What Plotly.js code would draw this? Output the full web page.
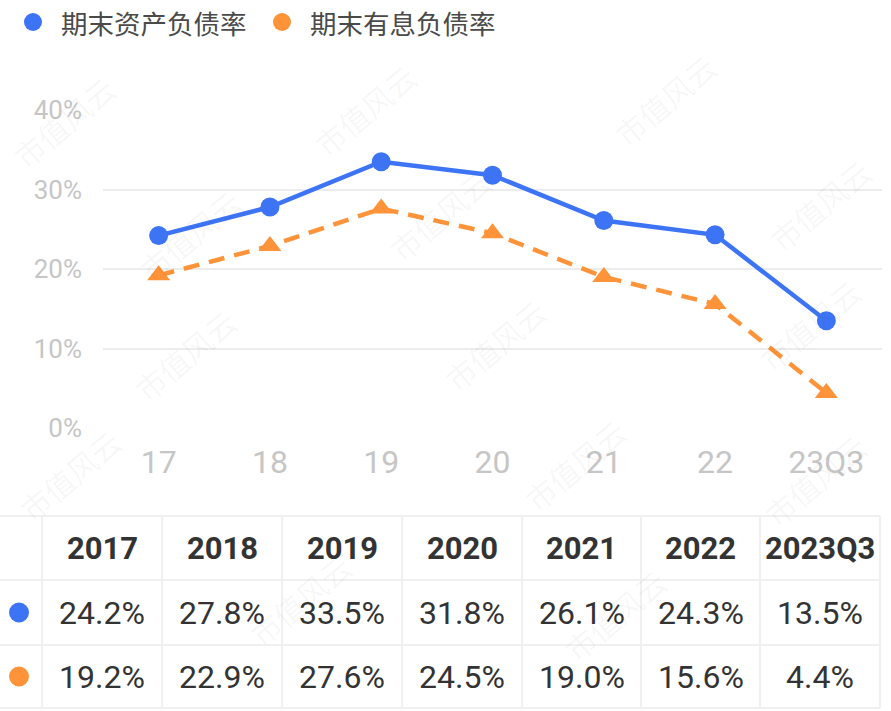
<!DOCTYPE html>
<html>
<head>
<meta charset="utf-8">
<script src="https://cdn.plot.ly/plotly-3.0.1.min.js"></script>
<style>
  html, body { margin: 0; padding: 0; background: #ffffff; }
  #chart { width: 891px; height: 711px; }
</style>
</head>
<body>
<div id="chart"></div>
<script>
// Debt ratios by period
const categories = ['17', '18', '19', '20', '21', '22', '23Q3'];
const periods = ['2017', '2018', '2019', '2020', '2021', '2022', '2023Q3'];
const assetLiabilityRatio = [24.2, 27.8, 33.5, 31.8, 26.1, 24.3, 13.5];
const interestDebtRatio = [19.2, 22.9, 27.6, 24.5, 19.0, 15.6, 4.4];
const seriesNames = ['期末资产负债率', '期末有息负债率'];
const yTicks = [0, 10, 20, 30, 40];
const watermarkText = '市值风云';

// Figure geometry (pixels) converted to paper fractions
const W = 891, H = 711;
const fx = x => x / W;
const fy = y => 1 - y / H;

const BLUE = '#3d74f6';
const ORANGE = '#fe9339';
const NUM_FONT = 'Roboto, "Noto Sans", sans-serif';
const CJK_FONT = '"Noto Sans CJK SC", "Noto Sans", sans-serif';

const traces = [
  {
    type: 'scatter', mode: 'lines+markers', name: seriesNames[0],
    x: categories, y: assetLiabilityRatio, cliponaxis: false,
    line: { color: BLUE, width: 4.5 },
    marker: { color: BLUE, size: 19, symbol: 'circle' },
    showlegend: false, hoverinfo: 'skip'
  },
  {
    type: 'scatter', mode: 'lines+markers', name: seriesNames[1],
    x: categories, y: interestDebtRatio, cliponaxis: false,
    line: { color: ORANGE, width: 4.5, dash: '16px,10px' },
    marker: { color: ORANGE, size: 20, symbol: 'triangle-up' },
    showlegend: false, hoverinfo: 'skip'
  }
];

const shapes = [];
const annotations = [];

// Legend: colored dots followed by labels
const legendItems = [
  { color: BLUE, dotX: 33, textX: 59, label: seriesNames[0] },
  { color: ORANGE, dotX: 282, textX: 308, label: seriesNames[1] }
];
legendItems.forEach(it => {
  shapes.push({
    type: 'circle', xref: 'paper', yref: 'paper',
    x0: fx(it.dotX - 9), x1: fx(it.dotX + 9), y0: fy(22 + 9), y1: fy(22 - 9),
    fillcolor: it.color, line: { width: 0 }
  });
  annotations.push({
    xref: 'paper', yref: 'paper', x: fx(it.textX), y: fy(22),
    xanchor: 'left', yanchor: 'middle', showarrow: false,
    text: it.label, font: { family: CJK_FONT, size: 26.5, color: '#4a4a4a' }
  });
});

// Data table below the chart
const colEdges = [42, 162, 282, 402, 522, 641, 760, 880];
const rowEdges = [516, 580, 645, 708];
const GRID = '#f0f0f0';
rowEdges.forEach(y => {
  shapes.push({
    type: 'line', xref: 'paper', yref: 'paper',
    x0: 0, x1: fx(880), y0: fy(y), y1: fy(y),
    line: { color: GRID, width: 2 }
  });
});
colEdges.forEach(x => {
  shapes.push({
    type: 'line', xref: 'paper', yref: 'paper',
    x0: fx(x), x1: fx(x), y0: fy(rowEdges[0]), y1: fy(rowEdges[3]),
    line: { color: GRID, width: 2 }
  });
});

const rowCenter = i => (rowEdges[i] + rowEdges[i + 1]) / 2;
periods.forEach((p, i) => {
  const cx = (colEdges[i] + colEdges[i + 1]) / 2;
  annotations.push({
    xref: 'paper', yref: 'paper', x: fx(cx), y: fy(rowCenter(0)),
    xanchor: 'center', yanchor: 'middle', showarrow: false,
    text: '<b>' + p + '</b>', font: { family: NUM_FONT, size: 31, color: '#333333' }
  });
});
[assetLiabilityRatio, interestDebtRatio].forEach((series, r) => {
  const cy = rowCenter(r + 1);
  shapes.push({
    type: 'circle', xref: 'paper', yref: 'paper',
    x0: fx(19 - 10), x1: fx(19 + 10), y0: fy(cy + 10), y1: fy(cy - 10),
    fillcolor: r === 0 ? BLUE : ORANGE, line: { width: 0 }
  });
  series.forEach((v, i) => {
    const cx = (colEdges[i] + colEdges[i + 1]) / 2;
    annotations.push({
      xref: 'paper', yref: 'paper', x: fx(cx), y: fy(cy),
      xanchor: 'center', yanchor: 'middle', showarrow: false,
      text: v.toFixed(1) + '%', font: { family: NUM_FONT, size: 32, color: '#333333' }
    });
  });
});

// Faint diagonal watermark
const watermarkSpots = [
  [64, 122], [365, 110], [665, 100], [190, 235], [440, 215], [820, 205],
  [185, 355], [495, 345], [810, 325], [70, 475], [575, 465], [300, 600], [615, 615], [815, 480]
];
watermarkSpots.forEach(([x, y]) => {
  annotations.push({
    xref: 'paper', yref: 'paper', x: fx(x), y: fy(y),
    xanchor: 'center', yanchor: 'middle', showarrow: false, textangle: -40,
    text: watermarkText, font: { family: CJK_FONT, size: 30, color: 'rgba(0,0,0,0.045)' }
  });
});

const layout = {
  width: W, height: H,
  margin: { l: 0, r: 0, t: 0, b: 0 },
  paper_bgcolor: '#ffffff', plot_bgcolor: '#ffffff',
  showlegend: false,
  xaxis: {
    type: 'category', domain: [fx(103), fx(882)], range: [-0.5, 6.5],
    showgrid: false, zeroline: false, showline: false, ticks: '',
    ticklabelstandoff: 12,
    tickfont: { family: NUM_FONT, size: 32, color: '#c6c6c6' },
    fixedrange: true
  },
  yaxis: {
    domain: [fy(428), fy(110)], range: [0, 40],
    tickvals: yTicks, ticktext: yTicks.map(v => v + '%'),
    showgrid: true, gridcolor: '#ececec', gridwidth: 2,
    zeroline: false, showline: false, ticks: '',
    ticklabelstandoff: 20,
    tickfont: { family: NUM_FONT, size: 26, color: '#c6c6c6' },
    fixedrange: true
  },
  shapes: shapes,
  annotations: annotations
};

Plotly.newPlot('chart', traces, layout, { displayModeBar: false, staticPlot: true });
</script>
</body>
</html>
